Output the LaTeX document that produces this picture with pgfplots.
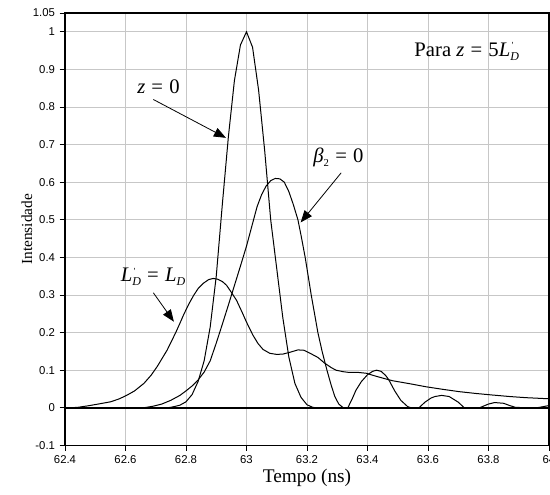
\documentclass[border=0pt]{standalone}
\usepackage{fontspec}
\setmainfont{Liberation Serif}
\newfontfamily\arial{Liberation Sans}
\usepackage{pgfplots}
\pgfplotsset{compat=1.18}
\usetikzlibrary{arrows.meta}
\newcommand{\Lp}{\textit{L}\rlap{\raisebox{0.8ex}{\fontsize{7}{7}\selectfont\,\textquotesingle}}\raisebox{-0.45ex}{\fontsize{9}{9}\selectfont\textit{D}}}
\newcommand{\LD}{\textit{L}\raisebox{-0.45ex}{\fontsize{9}{9}\selectfont\textit{D}}}
\newcommand{\eq}{\hspace{0.3em}=\hspace{0.3em}}
\begin{document}
\begin{tikzpicture}
\begin{axis}[
  scale only axis, width=363pt, height=324.3pt,
  xmin=62.4, xmax=64, ymin=-0.1, ymax=1.05,
  xtick={62.4,62.6,62.8,63,63.2,63.4,63.6,63.8,64},
  ytick={-0.1,0,0.1,0.2,0.3,0.4,0.5,0.6,0.7,0.8,0.9,1,1.05},
  grid=major, major grid style={draw=black!22, line width=0.7pt},
  tick align=outside, tick pos=left, major tick length=4pt,
  tick style={black, line width=0.7pt},
  axis line style={line width=0.9pt},
  /pgf/number format/assume math mode=true,
  ticklabel style={font=\arial\fontsize{8.5}{9}\selectfont},
  xticklabel style={/pgf/number format/.cd, fixed, precision=1},
  yticklabel style={/pgf/number format/.cd, fixed, precision=2},
  xlabel={Tempo (ns)}, ylabel={Intensidade},
  xlabel style={font=\fontsize{14.5}{16}\selectfont, at={(axis description cs:0.5,0)}, anchor=center, yshift=-24pt},
  ylabel style={font=\fontsize{11.5}{13}\selectfont, at={(axis description cs:-0.0785,0.5)}, anchor=center},
]
% z = 0
\addplot[black, no markers, line width=0.75pt] coordinates {
(62.4,0) (62.74,0) (62.76,0.003) (62.78,0.007) (62.80,0.016) (62.82,0.035) (62.84,0.07)
(62.86,0.125) (62.88,0.215) (62.90,0.35) (62.92,0.54) (62.94,0.72) (62.96,0.87) (62.98,0.965)
(63.00,1.0) (63.02,0.959) (63.04,0.845) (63.06,0.685) (63.08,0.50) (63.10,0.37) (63.12,0.24)
(63.14,0.135) (63.16,0.065) (63.18,0.028) (63.20,0.008) (63.22,0.001) (63.24,0) (64,0)
};
% beta2 = 0
\addplot[black, no markers, line width=0.75pt] coordinates {
(62.4,0) (62.66,0) (62.69,0.004) (62.72,0.01) (62.75,0.02) (62.78,0.033) (62.80,0.045)
(62.82,0.058) (62.84,0.074) (62.86,0.095) (62.88,0.125) (62.90,0.172) (62.92,0.222) (62.94,0.273)
(62.96,0.325) (62.98,0.377) (63.0,0.43) (63.02,0.49) (63.035,0.535) (63.05,0.567) (63.065,0.59)
(63.08,0.604) (63.095,0.61) (63.11,0.609) (63.125,0.60) (63.14,0.575) (63.155,0.54) (63.17,0.50)
(63.18,0.46) (63.194,0.40) (63.204,0.35) (63.214,0.30) (63.225,0.25) (63.236,0.20) (63.25,0.15)
(63.266,0.10) (63.28,0.06) (63.292,0.03) (63.305,0.01) (63.32,0) (63.335,0) (63.35,0.025)
(63.362,0.047) (63.38,0.07) (63.40,0.088) (63.417,0.097) (63.43,0.10) (63.445,0.097) (63.46,0.086)
(63.47,0.075) (63.49,0.045) (63.51,0.02) (63.533,0.003) (63.545,0) (63.57,0) (63.59,0.015)
(63.61,0.026) (63.623,0.03) (63.645,0.033) (63.67,0.03) (63.69,0.02) (63.70,0.015) (63.72,0)
(63.77,0) (63.80,0.01) (63.82,0.014) (63.85,0.012) (63.87,0.006) (63.89,0.001) (63.96,0) (64,0.006)
};
% L'_D = L_D
\addplot[black, no markers, line width=0.75pt] coordinates {
(62.4,0) (62.44,0.001) (62.474,0.005) (62.51,0.01) (62.551,0.016) (62.58,0.024) (62.606,0.034)
(62.63,0.045) (62.661,0.065) (62.685,0.087) (62.705,0.11) (62.72,0.13) (62.738,0.154) (62.752,0.177)
(62.766,0.20) (62.78,0.225) (62.793,0.249) (62.81,0.277) (62.826,0.30) (62.84,0.317) (62.857,0.331)
(62.875,0.341) (62.89,0.344) (62.905,0.342) (62.92,0.336) (62.934,0.326) (62.95,0.307) (62.967,0.286)
(62.985,0.255) (63.0,0.228) (63.02,0.195) (63.038,0.171) (63.055,0.155) (63.077,0.145) (63.10,0.142)
(63.121,0.143) (63.145,0.148) (63.17,0.154) (63.19,0.153) (63.208,0.146) (63.236,0.134) (63.258,0.119)
(63.28,0.107) (63.296,0.10) (63.32,0.096) (63.34,0.094) (63.37,0.094) (63.395,0.092) (63.428,0.084)
(63.455,0.078) (63.483,0.072) (63.54,0.064) (63.593,0.056) (63.65,0.049) (63.703,0.043) (63.76,0.038)
(63.813,0.034) (63.87,0.030) (63.923,0.027) (64.0,0.024)
};
% zero line
\addplot[black, no markers, line width=1.1pt] coordinates {(62.4,0) (64,0)};
% annotations
\node[font=\fontsize{15.5}{17}\selectfont] at (axis cs:62.709,0.853) {\textit{z}\eq 0};
\draw[line width=0.6pt, -{Triangle[length=9pt,width=7pt]}] (axis cs:62.692,0.820) -- (axis cs:62.932,0.718);
\node[font=\fontsize{15.5}{17}\selectfont] at (axis cs:63.304,0.667) {\textit{β}\raisebox{-0.45ex}{\fontsize{8}{8}\selectfont 2}\eq 0};
\draw[line width=0.6pt, -{Triangle[length=9pt,width=7pt]}] (axis cs:63.313,0.625) -- (axis cs:63.179,0.493);
\node[font=\fontsize{15.5}{17}\selectfont] at (axis cs:62.691,0.348) {\Lp\eq\LD};
\draw[line width=0.6pt, -{Triangle[length=9pt,width=7pt]}] (axis cs:62.692,0.306) -- (axis cs:62.76,0.229);
\node[font=\fontsize{15.5}{17}\selectfont] at (axis cs:63.728,0.948) {Para \textit{z}\eq 5\Lp};
\end{axis}
\pgfresetboundingbox
\useasboundingbox ([xshift=-48.75pt,yshift=-36.75pt]current axis.south west) rectangle ([xshift=0.75pt,yshift=9.75pt]current axis.north east);
\end{tikzpicture}
\end{document}
